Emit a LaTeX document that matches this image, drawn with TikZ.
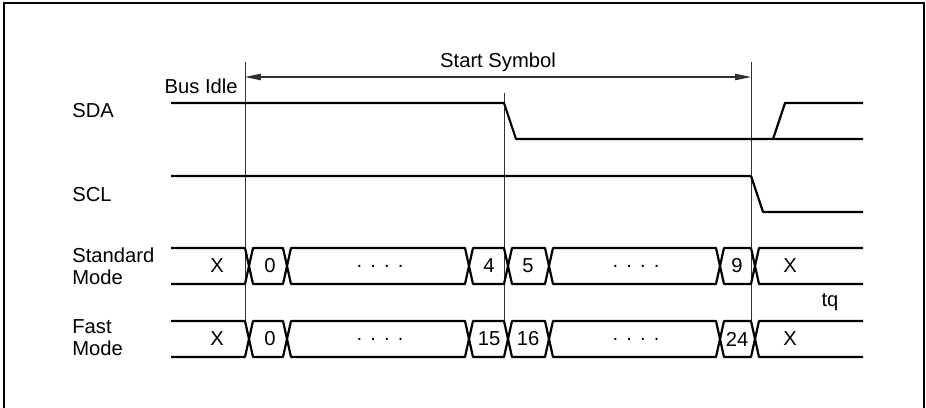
\documentclass[tikz,border=0pt]{standalone}
\usepackage{fontspec}
\setmainfont{Liberation Sans}
\usetikzlibrary{arrows.meta}
\definecolor{guidegray}{HTML}{303030}
\newcommand{\busdots}{.\hspace{4.6pt}.\hspace{4.6pt}.\hspace{4.6pt}.}
\tikzset{
  sig/.style={line width=1.25pt,line join=round},
  guide/.style={line width=0.55pt,color=guidegray},
  lbl/.style={font=\fontsize{11.5}{12.5}\selectfont,inner sep=0pt,text=black},
}

\begin{document}
\begin{tikzpicture}[x=0.02cm,y=-0.02cm,>={Triangle[length=9pt,width=3.6pt]}]
  \useasboundingbox (0,0) rectangle (926,408);
  \draw[line width=1.2pt] (4,412) -- (4,3) -- (924,3) -- (924,412);
  % time marks
  \coordinate (m1) at (245,62);
  \coordinate (m2) at (504,93);
  \coordinate (m3) at (751,62);
  \foreach \m in {m1,m2,m3}
    \draw[guide] (\m) -- (\m |- 0,321);
  \coordinate (idle) at (245,77);
  \coordinate (sym) at (751,77);
  \draw[<->,guide,line width=0.6pt] (idle) -- (sym)
    node[lbl,midway,above=3pt] (start) {Start Symbol};
  \node[lbl,anchor=east] (busidle) at (238,86) {Bus Idle};
  % signal names
  \node[lbl,anchor=west] (sda) at (72,111) {SDA};
  \node[lbl,anchor=west] (scl) at (72,195) {SCL};
  \node[lbl,anchor=west,align=left] (std) at (72,266) {Standard\\Mode};
  \node[lbl,anchor=west,align=left] (fast) at (72,338) {Fast\\Mode};
  % SDA and SCL
  \draw[sig] (171,103) -- (504,103) -- (516,139) -- (863,139);
  \draw[sig] (773,139) -- (785,103) -- (863,103);
  \draw[sig] (171,176) -- (751,176) -- (763,212) -- (863,212);
  % bit time rows
  \foreach \t/\b in {248/284,321/357} {
    \draw[sig] (171,\t) -- (245,\t) -- (249,{(\t+\b)/2}) -- (245,\b) -- (171,\b);
    \foreach \p/\q in {245/283,283/465,465/504,504/545,545/716,716/751}
      \draw[sig] (\p+4,{(\t+\b)/2}) -- (\p+8,\t) -- (\q,\t) -- (\q+4,{(\t+\b)/2})
        -- (\q,\b) -- (\p+8,\b) -- cycle;
    \draw[sig] (863,\t) -- (759,\t) -- (755,{(\t+\b)/2}) -- (759,\b) -- (863,\b);
  }
  \foreach \x/\s [count=\i] in {217/X,270/0,380/\busdots,489/4,528/5,636/\busdots,737/9,790/X}
    \node[lbl] (s\i) at (\x,266) {\s};
  \foreach \x/\s [count=\i] in {217/X,270/0,380/\busdots,489/15,528/16,636/\busdots,737/24,790/X}
    \node[lbl] (f\i) at (\x,339) {\s};
  \node[lbl] (tq) at (830,302) {tq};
\end{tikzpicture}
\end{document}
